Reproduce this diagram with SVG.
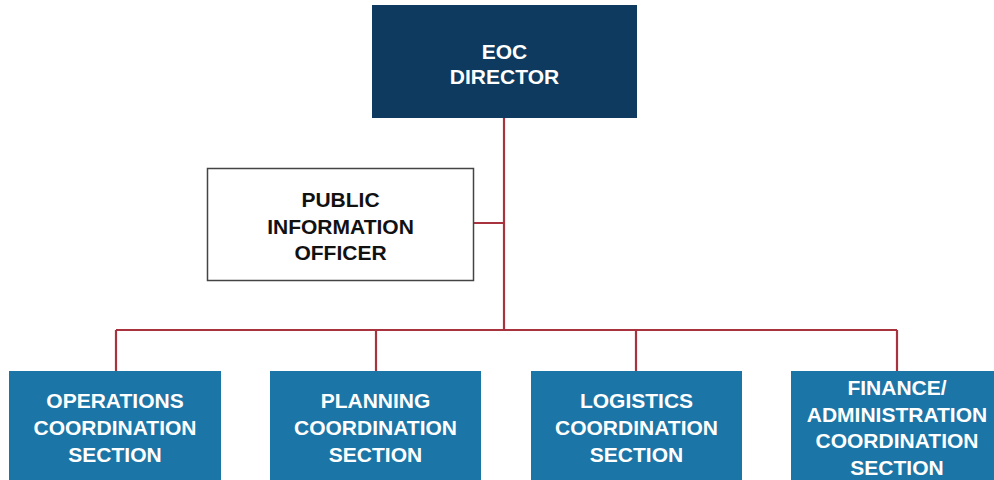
<svg xmlns="http://www.w3.org/2000/svg" width="994" height="480" viewBox="0 0 994 480">
<style>
.t{font-family:"Liberation Sans",Arial,sans-serif;font-weight:bold;font-size:21px;text-anchor:middle}
.w{fill:#ffffff}
.k{fill:#111111}
.sec{fill:#1b75a6}
.c{stroke:#a8333f;stroke-width:2.2;fill:none}
</style>
<rect width="994" height="480" fill="#ffffff"/>
<g id="connectors">
<path class="c" d="M504 118V330M474 223H504M116 330H897M116 330V371M376 330V371M636 330V371M897 330V371"/>
</g>
<g id="eoc-director">
<rect x="372" y="5" width="265" height="113" fill="#0d3a5e"/>
<text class="t w" x="504.5" y="59">EOC</text>
<text class="t w" x="504.5" y="84">DIRECTOR</text>
</g>
<g id="pio">
<rect x="207.5" y="168.5" width="266" height="112" fill="#ffffff" stroke="#444444" stroke-width="1.5"/>
<text class="t k" x="340.5" y="207">PUBLIC</text>
<text class="t k" x="340.5" y="234">INFORMATION</text>
<text class="t k" x="340.5" y="260">OFFICER</text>
</g>
<g id="operations">
<rect class="sec" x="9" y="371" width="212" height="115"/>
<text class="t w" x="115" y="408">OPERATIONS</text>
<text class="t w" x="115" y="435">COORDINATION</text>
<text class="t w" x="115" y="462">SECTION</text>
</g>
<g id="planning">
<rect class="sec" x="270" y="371" width="211" height="115"/>
<text class="t w" x="375.5" y="408">PLANNING</text>
<text class="t w" x="375.5" y="435">COORDINATION</text>
<text class="t w" x="375.5" y="462">SECTION</text>
</g>
<g id="logistics">
<rect class="sec" x="531" y="371" width="211" height="115"/>
<text class="t w" x="636.5" y="408">LOGISTICS</text>
<text class="t w" x="636.5" y="435">COORDINATION</text>
<text class="t w" x="636.5" y="462">SECTION</text>
</g>
<g id="finance">
<rect class="sec" x="791" y="371" width="212" height="115"/>
<text class="t w" x="897" y="395">FINANCE/</text>
<text class="t w" x="897" y="422">ADMINISTRATION</text>
<text class="t w" x="897" y="448">COORDINATION</text>
<text class="t w" x="897" y="475">SECTION</text>
</g>
</svg>
